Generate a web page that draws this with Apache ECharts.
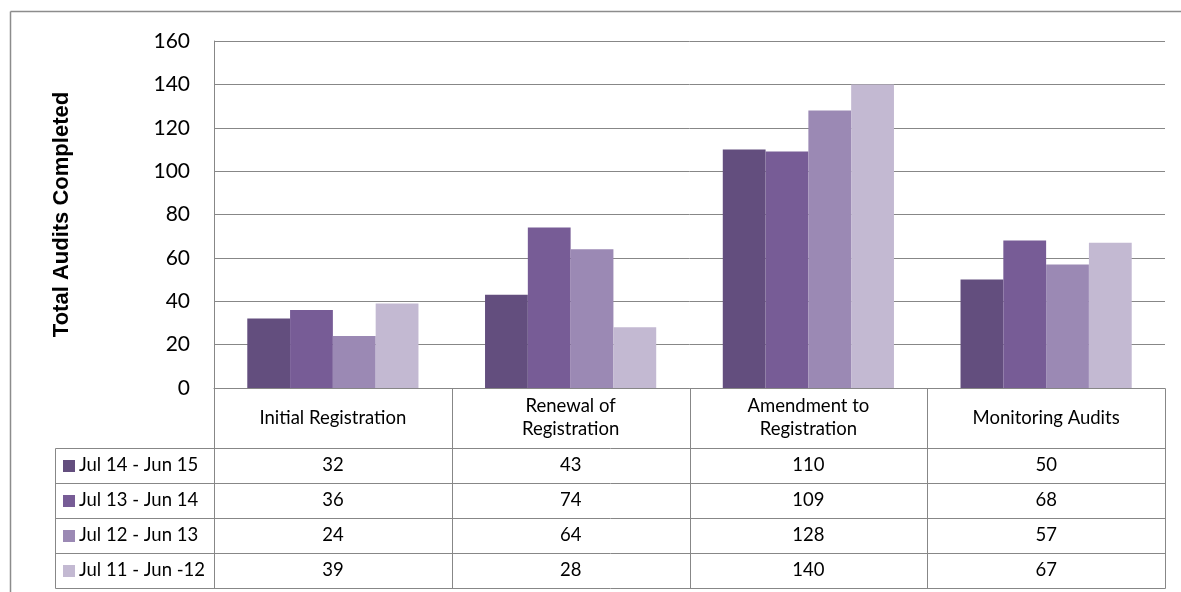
<!DOCTYPE html>
<html>
<head>
<meta charset="utf-8">
<script src="https://cdn.jsdelivr.net/npm/echarts@6/dist/echarts.min.js"></script>
<style>
  html, body { margin: 0; padding: 0; background: #fff; }
  #chart { width: 1181px; height: 592px; }
</style>
</head>
<body>
<div id="chart"></div>
<script>
// categories and series
var categories = ['Initial Registration', 'Renewal of\nRegistration', 'Amendment to\nRegistration', 'Monitoring Audits'];
var seriesNames = ['Jul 14 - Jun 15', 'Jul 13 - Jun 14', 'Jul 12 - Jun 13', 'Jul 11 - Jun -12'];
var jul14 = [32, 43, 110, 50];
var jul13 = [36, 74, 109, 68];
var jul12 = [24, 64, 128, 57];
var jul11 = [39, 28, 140, 67];
var yTicks = [0, 20, 40, 60, 80, 100, 120, 140, 160];

var colors = ['#634e7e', '#775c96', '#9b89b4', '#c3b9d2'];
var values = [jul14, jul13, jul12, jul11];
var lineColor = '#878787';
var font = 'Lato, "Open Sans", sans-serif';

var chart = echarts.init(document.getElementById('chart'));

var option = {
	animation : false,
	color : colors,
	graphic : [],
	grid : {
		left : 214,
		right : 16,
		top : 41,
		bottom : 204
	},
	xAxis : {
		type : 'category',
		data : categories,
		axisLine : { lineStyle : { color : lineColor, width : 1 } },
		axisTick : { show : false },
		axisLabel : { show : false }
	},
	yAxis : {
		type : 'value',
		min : yTicks[0],
		max : yTicks[yTicks.length - 1],
		interval : 20,
		name : 'Total Audits Completed',
		nameLocation : 'middle',
		nameGap : 141,
		nameTextStyle : {
			fontFamily : '"Liberation Sans", Arial, sans-serif',
			fontWeight : 'bold',
			fontSize : 22,
			color : '#000'
		},
		axisLine : { show : true, lineStyle : { color : lineColor, width : 1 } },
		axisTick : { show : false },
		axisLabel : {
			fontFamily : font,
			fontSize : 21,
			color : '#000',
			margin : 24
		},
		splitLine : { lineStyle : { color : lineColor, width : 1 } }
	},
	series : seriesNames.map(function(name, i) {
		return {
			name : name,
			type : 'bar',
			data : values[i],
			barGap : '0%',
			barCategoryGap : '28%',
			itemStyle : { color : colors[i] }
		};
	})
};
chart.setOption(option);

// data table under the plot, placed from the axis scale
function buildTable() {
	var c0 = chart.convertToPixel({ xAxisIndex : 0 }, 0);
	var c1 = chart.convertToPixel({ xAxisIndex : 0 }, 1);
	var band = c1 - c0;
	var left = c0 - band / 2;
	var right = left + band * categories.length;
	var top = chart.convertToPixel({ yAxisIndex : 0 }, 0);
	var headH = 60, rowH = 35;
	var rowsTop = top + headH;
	var bottom = rowsTop + rowH * seriesNames.length;
	var legLeft = 55;
	var g = [];
	var ls = { stroke : lineColor, lineWidth : 1 };

	function line(x1, y1, x2, y2, style) {
		g.push({ type : 'line', silent : true,
			shape : { x1 : Math.round(x1) + 0.5, y1 : Math.round(y1) + 0.5, x2 : Math.round(x2) + 0.5, y2 : Math.round(y2) + 0.5 },
			style : style || ls });
	}
	function text(str, x, y, align) {
		g.push({ type : 'text', silent : true, x : x, y : y,
			style : { text : str, fill : '#000', font : '18.5px ' + font, align : align, verticalAlign : 'middle', lineHeight : 23 } });
	}

	// vertical lines
	for (var k = 0; k <= categories.length; k++) {
		line(left + band * k, top, left + band * k, bottom);
	}
	line(legLeft, rowsTop, legLeft, bottom);
	// horizontal lines
	for (var r = 0; r <= seriesNames.length; r++) {
		line(legLeft, rowsTop + rowH * r, right, rowsTop + rowH * r);
	}
	// headers
	categories.forEach(function(cat, k) {
		text(cat, left + band * (k + 0.5), top + headH / 2, 'center');
	});
	// rows
	seriesNames.forEach(function(name, i) {
		var cy = rowsTop + rowH * (i + 0.5);
		g.push({ type : 'rect', silent : true,
			shape : { x : legLeft + 8, y : Math.round(cy) - 6, width : 12, height : 12 },
			style : { fill : colors[i] } });
		text(name, legLeft + 24, cy, 'left');
		values[i].forEach(function(v, k) {
			text(String(v), left + band * (k + 0.5), cy, 'center');
		});
	});
	// outer chart border (only left and top edges are inside the picture)
	var bs = { stroke : '#8c8c8c', lineWidth : 1.5 };
	line(10, 11, 10, 600, bs);
	line(10, 11, 1200, 11, bs);
	chart.setOption({ graphic : g });
}
buildTable();
</script>
</body>
</html>
